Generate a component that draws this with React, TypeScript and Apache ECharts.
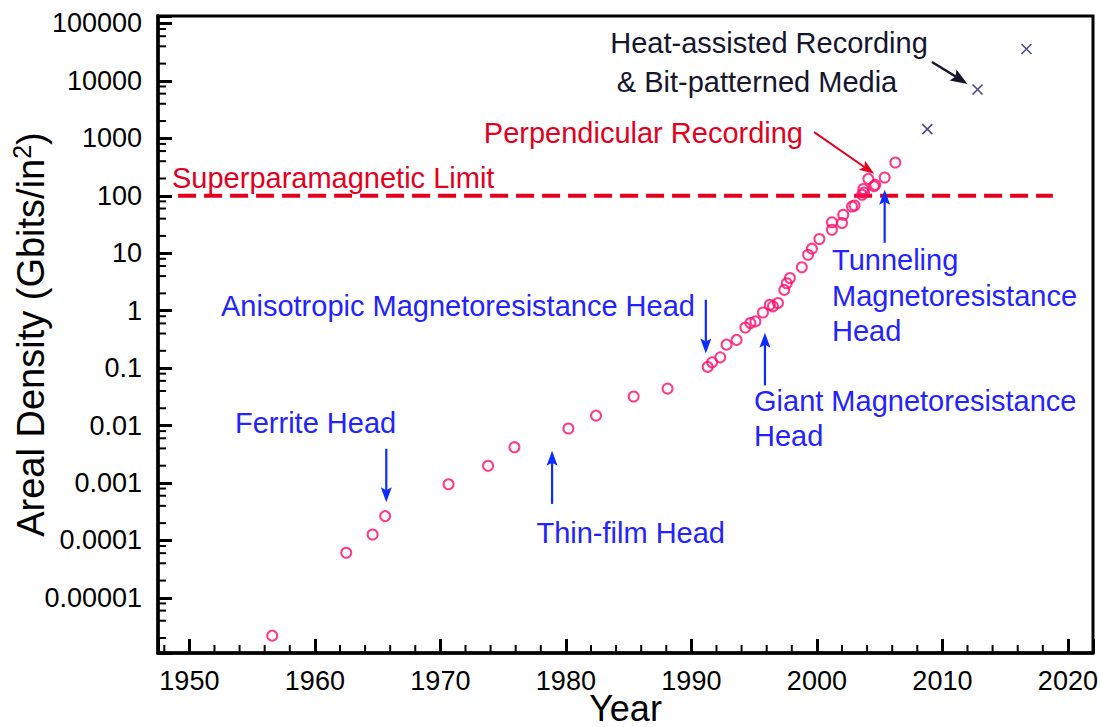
import { useEffect, useRef } from 'react';
import * as echarts from 'echarts';

// ---- data (years, areal density in Gbits/in^2) ----
const circleYears = [
  1956.6, 1962.5, 1964.6, 1965.6, 1970.65, 1973.8, 1975.9, 1980.2, 1982.4, 1985.4,
  1988.1, 1991.3, 1991.65, 1992.3, 1992.8, 1993.6, 1994.3, 1994.7, 1995.1, 1995.7,
  1996.25, 1996.5, 1996.9, 1997.4, 1997.6, 1997.85, 1998.8, 1999.3, 1999.6, 2000.2,
  2001.2, 2001.2, 2002.0, 2002.1, 2002.8, 2003.0, 2003.6, 2003.75, 2003.7, 2004.1,
  2004.55, 2004.65, 2005.4, 2006.25,
];
const circleDensity = [
  2.2e-6, 6.1e-5, 1.27e-4, 2.65e-4, 9.5e-4, 2.0e-3, 4.2e-3, 8.9e-3, 0.0149, 0.032,
  0.044, 0.105, 0.126, 0.154, 0.256, 0.31, 0.51, 0.61, 0.65, 0.93,
  1.27, 1.19, 1.36, 2.3, 3.0, 3.7, 5.7, 9.4, 12, 17.7,
  25.6, 34.6, 33.6, 46.7, 65, 67.6, 104, 114, 131, 197,
  147, 155, 208, 380,
];
const futureYears = [2008.8, 2012.8, 2016.7];
const futureDensity = [1450, 7100, 36000];
const limitYears = [1949.1, 2018.8];
const limitDensity = 100;

// annotation arrows: from (year, density) to (year, density)
const arrowFromYear = [2009.17, 1999.78, 2005.4, 1991.15, 1995.86, 1965.69, 1978.9];
const arrowFromDensity = [21380, 1282, 15.2, 1.55, 0.05, 0.00394, 0.000432];
const arrowToYear = [2012.0, 2004.57, 2005.4, 1991.15, 1995.86, 1965.69, 1978.9];
const arrowToDensity = [8870, 241.5, 127, 0.179, 0.414, 0.000463, 0.00363];
const arrowKind = ['black', 'red', 'blue', 'blue', 'blue', 'blue', 'blue'];

// axis tick layout
const yearMajorTicks = [1950, 1960, 1970, 1980, 1990, 2000, 2010, 2020];
const yearMinorStep = 2;
const minorMultipliers = [2, 4, 6, 8];
const decadeExponents = [-6, -5, -4, -3, -2, -1, 0, 1, 2, 3, 4, 5];

const X_MIN = 1947.5;
const X_MAX = 2022;
const Y_MIN = -5.96;
const Y_MAX = 5.13;

const FONT = "'Liberation Sans', Arial, Helvetica, sans-serif";
const RED = '#e3001f';
const PINK = '#ff0a6c';
const BLUE_TEXT = '#2323ff';
const BLUE = '#0a2cff';
const DARK = '#15152e';
const NAVY = '#1c1c78';

const lg = (v: number) => Math.log10(v);

export default function App() {
  const ref = useRef<HTMLDivElement>(null);

  useEffect(() => {
    document.body.style.margin = '0';
    if (!ref.current) return;
    const chart = echarts.init(ref.current, undefined, { renderer: 'svg' });

    const arrowColor: Record<string, string> = { black: DARK, red: RED, blue: BLUE };
    const arrowWidth: Record<string, number> = { black: 2.5, red: 2, blue: 2.2 };
    const arrowHead: Record<string, number[]> = { black: [17, 13], red: [15, 11], blue: [15, 11] };

    const xMajor: number[][] = yearMajorTicks.map((x) => [x, Y_MIN]);
    const xMinor: number[][] = [];
    for (let x = Math.ceil(X_MIN / yearMinorStep) * yearMinorStep; x < X_MAX; x += yearMinorStep) {
      if (yearMajorTicks.indexOf(x) < 0) xMinor.push([x, Y_MIN]);
    }
    const yMajor: number[][] = [];
    const yMinor: number[][] = [];
    decadeExponents.forEach((n) => {
      if (n > Y_MIN && n < Y_MAX) yMajor.push([X_MIN, n]);
      minorMultipliers.forEach((k) => {
        const v = n + lg(k);
        if (v > Y_MIN && v < Y_MAX) yMinor.push([X_MIN, v]);
      });
    });

    const texts = [
      ['Heat-assisted Recording', 769, 43, DARK, 'center'],
      ['& Bit-patterned Media', 757, 82, DARK, 'center'],
      ['Perpendicular Recording', 803, 133, RED, 'right'],
      ['Superparamagnetic Limit', 172, 178, RED, 'left'],
      ['Anisotropic Magnetoresistance Head', 221, 306, BLUE_TEXT, 'left'],
      ['Tunneling', 832, 260, BLUE_TEXT, 'left'],
      ['Magnetoresistance', 832, 296, BLUE_TEXT, 'left'],
      ['Head', 832, 331, BLUE_TEXT, 'left'],
      ['Giant Magnetoresistance', 754, 401, BLUE_TEXT, 'left'],
      ['Head', 754, 436, BLUE_TEXT, 'left'],
      ['Ferrite Head', 235, 423, BLUE_TEXT, 'left'],
      ['Thin-film Head', 725, 533, BLUE_TEXT, 'right'],
    ].map((t: any[], i) => ({
      type: 'text',
      id: 'txt' + i,
      x: t[1],
      y: t[2],
      silent: true,
      style: { text: t[0], fill: t[3], fontSize: 29, fontFamily: FONT, align: t[4], verticalAlign: 'middle' },
    }));

    const tickSeries = (name: string, data: number[][], size: number[], offset: number[]) => ({
      name,
      type: 'scatter',
      data,
      symbol: 'rect',
      symbolSize: size,
      symbolOffset: offset,
      itemStyle: { color: '#000', opacity: 1 },
      clip: false,
      silent: true,
      z: 6,
    });

    const option: any = {
      animation: false,
      backgroundColor: '#fff',
      grid: {
        left: 158,
        right: 7,
        top: 16,
        bottom: 74,
        show: true,
        z: -10,
        backgroundColor: 'rgba(0,0,0,0)',
        borderColor: '#000',
        borderWidth: 3,
        outerBoundsMode: 'none',
      },
      xAxis: {
        type: 'value',
        min: X_MIN,
        max: X_MAX,
        splitNumber: 7,
        minInterval: 10,
        maxInterval: 10,
        name: 'Year',
        nameLocation: 'middle',
        nameGap: 37,
        nameMoveOverlap: false,
        nameTextStyle: { fontSize: 36, fontFamily: FONT, color: '#000' },
        axisLine: { show: true, onZero: false, lineStyle: { color: '#000', width: 3.5 } },
        axisTick: { show: true, inside: true, length: 14, lineStyle: { color: '#000', width: 3 } },
        axisLabel: {
          show: true,
          margin: 14,
          fontSize: 27,
          fontFamily: FONT,
          color: '#000',
          formatter: (v: number) => (Math.abs(v % 10) < 1e-6 ? String(Math.round(v)) : ''),
        },
        splitLine: { show: false },
      },
      yAxis: {
        type: 'value',
        min: Y_MIN,
        max: Y_MAX,
        splitNumber: 11,
        minInterval: 1,
        maxInterval: 1,
        name: '{a|Areal Density (Gbits/in}{s|2}{a|)}',
        nameLocation: 'middle',
        nameGap: 105,
        nameMoveOverlap: false,
        nameTextStyle: {
          color: '#000',
          rich: {
            a: { fontSize: 38, fontFamily: FONT, color: '#000', lineHeight: 44 },
            s: { fontSize: 25, fontFamily: FONT, color: '#000', verticalAlign: 'top', lineHeight: 30 },
          },
        },
        axisLine: { show: true, onZero: false, lineStyle: { color: '#000', width: 3.5 } },
        axisTick: { show: true, inside: true, length: 14, lineStyle: { color: '#000', width: 3 } },
        axisLabel: {
          show: true,
          margin: 16,
          fontSize: 27,
          fontFamily: FONT,
          color: '#000',
          padding: [8, 0, 0, 0],
          formatter: (v: number) => {
            const r = Math.round(v);
            if (Math.abs(v - r) > 1e-6 || v <= Y_MIN + 1e-6) return '';
            return r >= 0 ? String(Math.pow(10, r)) : Math.pow(10, r).toFixed(-r);
          },
        },
        splitLine: { show: false },
      },
      series: [
        {
          name: 'Superparamagnetic Limit',
          type: 'line',
          data: limitYears.map((x) => [x, lg(limitDensity)]),
          symbol: 'none',
          lineStyle: { color: RED, width: 4, type: [18, 8] },
          z: 2,
          silent: true,
        },
        {
          name: 'Areal density',
          type: 'scatter',
          data: circleYears.map((x, i) => [x, lg(circleDensity[i])]),
          symbol: 'circle',
          symbolSize: 10,
          itemStyle: { color: 'transparent', borderColor: PINK, borderWidth: 2 },
          z: 3,
        },
        {
          name: 'Projected',
          type: 'scatter',
          data: futureYears.map((x, i) => [x, lg(futureDensity[i])]),
          symbol: 'path://M0,0L10,10M10,0L0,10',
          symbolSize: 10,
          itemStyle: { color: 'none', borderColor: NAVY, borderWidth: 1.6 },
          z: 3,
        },
        {
          name: 'arrows',
          type: 'custom',
          silent: true,
          clip: false,
          encode: { x: [0, 2], y: [1, 3] },
          data: arrowFromYear.map((x, i) => [x, lg(arrowFromDensity[i]), arrowToYear[i], lg(arrowToDensity[i]), i]),
          renderItem: (params: any, api: any) => {
            const i = api.value(4);
            const kind = arrowKind[i];
            const p1 = api.coord([api.value(0), api.value(1)]);
            const p2 = api.coord([api.value(2), api.value(3)]);
            const dx = p2[0] - p1[0];
            const dy = p2[1] - p1[1];
            const len = Math.sqrt(dx * dx + dy * dy) || 1;
            const ux = dx / len;
            const uy = dy / len;
            const nx = -uy;
            const ny = ux;
            const [hl, hw] = arrowHead[kind];
            const bx = p2[0] - ux * hl;
            const by = p2[1] - uy * hl;
            const notch = 3;
            const color = arrowColor[kind];
            return {
              type: 'group',
              children: [
                {
                  type: 'line',
                  shape: { x1: p1[0], y1: p1[1], x2: bx + ux * notch, y2: by + uy * notch },
                  style: { stroke: color, lineWidth: arrowWidth[kind] },
                },
                {
                  type: 'polygon',
                  shape: {
                    points: [
                      [p2[0], p2[1]],
                      [bx + (nx * hw) / 2, by + (ny * hw) / 2],
                      [bx + ux * notch, by + uy * notch],
                      [bx - (nx * hw) / 2, by - (ny * hw) / 2],
                    ],
                  },
                  style: { fill: color },
                },
              ],
            };
          },
          z: 4,
        },
        tickSeries('xMinorTicks', xMinor, [2, 8], [0, -4]),
        tickSeries('yMinorTicks', yMinor, [8, 2], [4, 0]),
      ],
      graphic: texts,
    };

    chart.setOption(option);

    return () => {
      chart.dispose();
    };
  }, []);

  return <div ref={ref} style={{ width: 1100, height: 727 }} />;
}
